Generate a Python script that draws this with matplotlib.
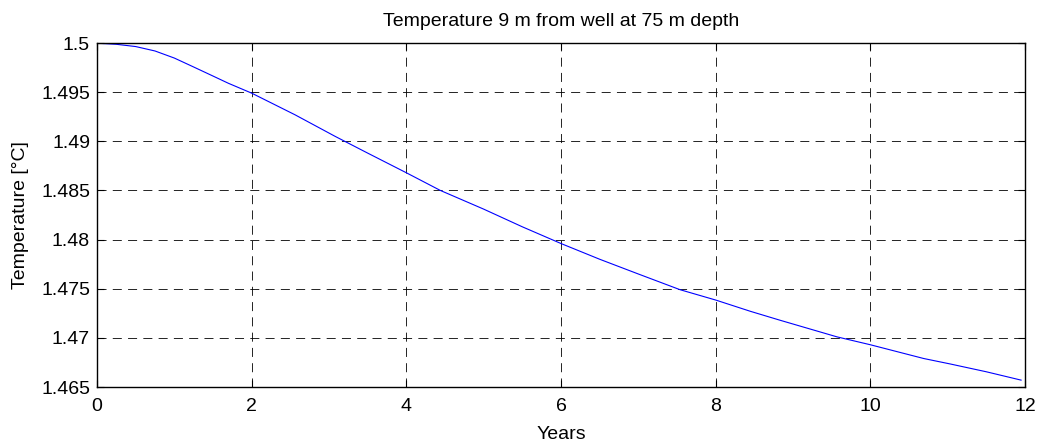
import matplotlib
matplotlib.use("Agg")
import matplotlib.pyplot as plt

# Temperature history at 9 m from the well, 75 m depth
years = [0.0, 0.25, 0.5, 0.75, 1.0, 1.25, 1.5, 1.7, 2.0, 2.56, 3.08, 3.5,
         4.0, 4.44, 5.0, 5.5, 6.0, 6.5, 7.0, 7.54, 8.0, 8.45, 8.83, 9.57,
         10.0, 10.69, 11.03, 11.5, 11.95]
temperature = [1.49998, 1.49987, 1.49964, 1.49919, 1.49847, 1.49756,
               1.49664, 1.4959, 1.4949, 1.4927, 1.4905, 1.4888, 1.4868,
               1.4850, 1.4831, 1.4813, 1.4796, 1.4780, 1.4765, 1.4749,
               1.47385, 1.4727, 1.4718, 1.4701, 1.4693, 1.4679, 1.46735,
               1.46655, 1.4657]

x_ticks = [0, 2, 4, 6, 8, 10, 12]
y_ticks = [1.465, 1.47, 1.475, 1.48, 1.485, 1.49, 1.495, 1.5]
y_tick_labels = ["1.465", "1.47", "1.475", "1.48", "1.485", "1.49", "1.495", "1.5"]

plt.rcParams["font.family"] = ["Liberation Sans", "DejaVu Sans"]
plt.rcParams["lines.scale_dashes"] = False

fig = plt.figure(figsize=(10.43, 4.43), dpi=100)
ax = fig.add_axes([0.093, 0.1264, 0.8897, 0.7765])

ax.plot(years, temperature, color="#0000ff", linewidth=0.8)

ax.set_xlim(0, 12)
ax.set_ylim(1.465, 1.5)
ax.set_xticks(x_ticks)
ax.set_yticks(y_ticks)
ax.set_yticklabels(y_tick_labels)

ax.grid(True, color="black", linestyle=(0, (6.5, 4.5)), linewidth=0.6)
ax.tick_params(direction="in", length=5, width=0.8, top=True, right=True,
               labelsize=14)
ax.tick_params(axis="x", pad=8)
ax.tick_params(axis="y", pad=5)
for side in ax.spines.values():
    side.set_linewidth(1.0)

ax.set_title("Temperature 9 m from well at 75 m depth", fontsize=14, pad=12)
ax.set_xlabel("Years", fontsize=14, labelpad=8)
ax.set_ylabel("Temperature [°C]", fontsize=14, labelpad=9)

fig.savefig("out.png", dpi=100)
